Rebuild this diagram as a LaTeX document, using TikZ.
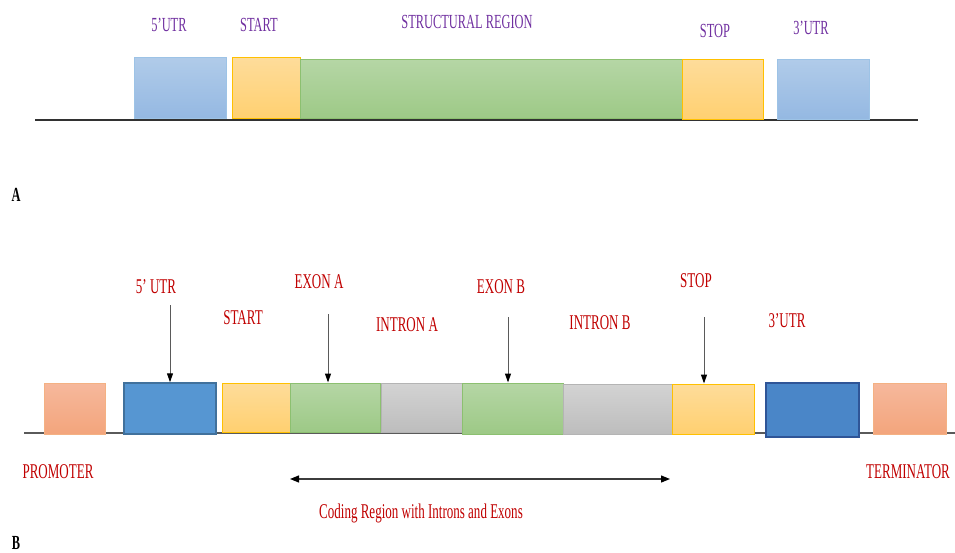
\documentclass[tikz,border=0pt]{standalone}
\usepackage{fontspec}
\usepackage{xcolor}
\usepackage{tikz}
\usetikzlibrary{arrows.meta}
\usetikzlibrary{shadings}
\newfontfamily\narrowserif[FakeStretch=0.62]{Liberation Serif}

\definecolor{lblpurple}{HTML}{7030A0}
\definecolor{lblred}{HTML}{C00000}
\tikzset{
  boxbase/.style={rectangle,inner sep=0pt,line width=1pt},
  lightutr/.style={boxbase,draw={rgb,255:red,157;green,195;blue,230},top color={rgb,255:red,176;green,203;blue,233},bottom color={rgb,255:red,148;green,184;blue,226}},
  darkutr/.style={boxbase,line width=1.5pt,draw={rgb,255:red,65;green,113;blue,156},fill={rgb,255:red,86;green,150;blue,210}},
  codon/.style={boxbase,draw={rgb,255:red,255;green,192;blue,0},top color={rgb,255:red,254;green,220;blue,154},bottom color={rgb,255:red,255;green,208;blue,112}},
  exon/.style={boxbase,draw={rgb,255:red,140;green,192;blue,112},top color={rgb,255:red,181;green,214;blue,165},bottom color={rgb,255:red,157;green,201;blue,134}},
  intron/.style={boxbase,draw={rgb,255:red,180;green,180;blue,180},top color={rgb,255:red,211;green,211;blue,211},bottom color={rgb,255:red,189;green,189;blue,189}},
  flank/.style={boxbase,draw={rgb,255:red,244;green,177;blue,131},top color={rgb,255:red,246;green,184;blue,156},bottom color={rgb,255:red,243;green,165;blue,124}},
  purplelbl/.style={text=lblpurple,font=\narrowserif\fontsize{20}{22}\selectfont,inner sep=0pt},
  redlbl/.style={text=lblred,font=\narrowserif\fontsize{21}{23}\selectfont,inner sep=0pt},
  panel/.style={font=\narrowserif\bfseries\fontsize{20}{22}\selectfont,inner sep=0pt},
  pointer/.style={draw={rgb,255:red,90;green,90;blue,90},line width=1pt,-{Triangle[black,length=9pt,width=6pt]}},
  span/.style={draw={rgb,255:red,60;green,60;blue,60},line width=1.2pt,{Triangle[black,length=9pt,width=7pt]}-{Triangle[black,length=9pt,width=7pt]}}
}

\begin{document}
\begin{tikzpicture}[x=1pt,y=-1pt]
    \useasboundingbox (0,0) rectangle (955,553);
    % panel A
    \draw[line width=1.5pt,color={rgb,255:red,50;green,50;blue,50}] (35,120) -- (918,120);
    \node[lightutr,minimum width=92,minimum height=61] (utra) at (180,88.5) {};
    \node[codon,minimum width=68,minimum height=61] (starta) at (266,88.5) {};
    \node[exon,minimum width=382,minimum height=59] (struct) at (491,89.5) {};
    \node[codon,minimum width=81,minimum height=60] (stopa) at (722.5,90) {};
    \node[lightutr,minimum width=92,minimum height=60] (utrc) at (823,90) {};
    %
    \node[purplelbl] (lutra) at (169,25) {5’UTR};
    \node[purplelbl] (lstarta) at (259,25) {START};
    \node[purplelbl] (lstruct) at (467,22) {STRUCTURAL REGION};
    \node[purplelbl] (lstopa) at (715,31) {STOP};
    \node[purplelbl] (lutrc) at (811,28) {3’UTR};
    \node[panel] (pa) at (16,195) {A};
    % panel B
    \draw[line width=1.5pt,color={rgb,255:red,90;green,90;blue,90}] (24,433) -- (955,433);
    \node[flank,minimum width=61,minimum height=51] (prom) at (74.5,408.5) {};
    \node[darkutr,minimum width=92,minimum height=51] (utrb) at (170,408.5) {};
    \node[codon,minimum width=68,minimum height=49] (startb) at (256,407.5) {};
    \node[exon,minimum width=90,minimum height=49] (exa) at (335,407.5) {};
    \node[intron,minimum width=81,minimum height=49] (ina) at (421.5,407.5) {};
    \node[exon,minimum width=101,minimum height=51] (exb) at (512.5,408.5) {};
    \node[intron,minimum width=109,minimum height=50] (inb) at (617.5,409) {};
    \node[codon,minimum width=82,minimum height=50] (stopb) at (713,409) {};
    \node[darkutr,minimum width=93,minimum height=54,fill={rgb,255:red,74;green,134;blue,200},draw={rgb,255:red,47;green,85;blue,151}] (utrd) at (812.5,410) {};
    \node[flank,minimum width=73,minimum height=51] (term) at (909.5,408.5) {};
    %
    \node[redlbl] (lutrb) at (156,287) {5’ UTR};
    \node[redlbl] (lstartb) at (243,318) {START};
    \node[redlbl] (lexa) at (319,282) {EXON A};
    \node[redlbl] (lina) at (407,325) {INTRON A};
    \node[redlbl] (lexb) at (501,287) {EXON B};
    \node[redlbl] (linb) at (600,323) {INTRON B};
    \node[redlbl] (lstopb) at (696,281) {STOP};
    \node[redlbl] (lutrd) at (787,321) {3’UTR};
    \node[redlbl] (lprom) at (58,472) {PROMOTER};
    \node[redlbl] (lterm) at (908,472) {TERMINATOR};
    \node[redlbl] (lcoding) at (421,513) {Coding Region with Introns and Exons};
    \node[panel] (pb) at (16,543) {B};
    %
    \coordinate (t1) at (170,305);
    \coordinate (t2) at (328,314);
    \coordinate (t3) at (508,317);
    \coordinate (t4) at (704,317);
    \draw[pointer] (t1) -- (t1 |- utrb.north);
    \draw[pointer] (t2) -- (t2 |- exa.north);
    \draw[pointer] (t3) -- (t3 |- exb.north);
    \draw[pointer] (t4) -- (t4 |- stopb.north);
    \coordinate (cl) at (290,479);
    \coordinate (cr) at (670,479);
    \draw[span] (cl) -- (cr);
  \end{tikzpicture}
\end{document}
